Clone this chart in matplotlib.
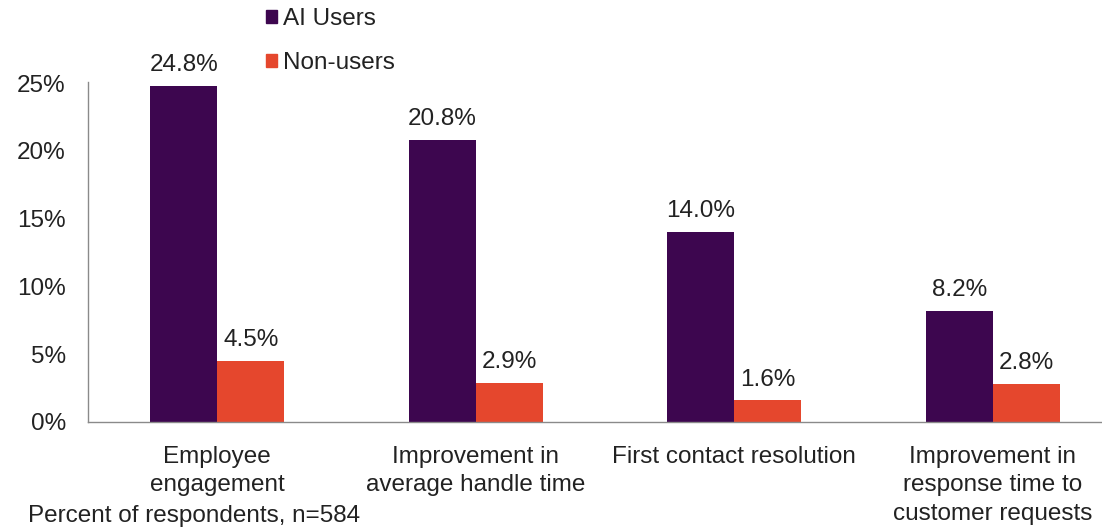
import matplotlib
matplotlib.use("Agg")
import matplotlib.pyplot as plt
import numpy as np
from matplotlib.patches import Patch

categories = ["Employee\nengagement", "Improvement in\naverage handle time",
              "First contact resolution", "Improvement in\nresponse time to\ncustomer requests"]
ai_users = [24.8, 20.8, 14.0, 8.2]
non_users = [4.5, 2.9, 1.6, 2.8]
series_names = ["AI Users", "Non-users"]
yticks = [0, 5, 10, 15, 20, 25]

plt.rcParams['font.family'] = ['Liberation Sans', 'DejaVu Sans']
text_color = "#222222"
c_ai = "#3d064f"
c_non = "#e5472d"
fs = 17.5

W, H = 1102, 528
fig = plt.figure(figsize=(W / 100, H / 100), dpi=100)
left, right, bottom, top = 88, 1122, 422, 83
ax = fig.add_axes([left / W, 1 - bottom / H, (right - left) / W, (bottom - top) / H])

x = np.arange(len(categories))
bw = 0.26
b1 = ax.bar(x - bw / 2, ai_users, bw, color=c_ai, label=series_names[0])
b2 = ax.bar(x + bw / 2, non_users, bw, color=c_non, label=series_names[1])

for bars, vals in ((b1, ai_users), (b2, non_users)):
    for b, v in zip(bars, vals):
        ax.annotate(f"{v:.1f}%", (b.get_x() + b.get_width() / 2, v),
                    xytext=(0, 7), textcoords="offset points",
                    ha="center", va="bottom", fontsize=fs, color=text_color)

ax.set_xlim(-0.5, len(categories) - 0.5)
ax.set_ylim(0, 25)
ax.set_yticks(yticks)
ax.set_yticklabels([f"{t}%" for t in yticks])
ax.set_xticks(x)
ax.set_xticklabels(categories, linespacing=1.4)
ax.tick_params(axis="y", length=0, pad=16, labelsize=fs, labelcolor=text_color)
ax.tick_params(axis="x", length=0, pad=17, labelsize=fs, labelcolor=text_color)
for s in ("top", "right"):
    ax.spines[s].set_visible(False)
for s in ("left", "bottom"):
    ax.spines[s].set_color("#8a8a8a")
    ax.spines[s].set_linewidth(1.0)
ax.spines["left"].set_bounds(0, 25.1)

handles = [Patch(color=c_ai), Patch(color=c_non)]
fig.legend(handles, series_names, loc="upper left", bbox_to_anchor=(244 / W, 1 + 14 / H),
           frameon=False, fontsize=fs, handlelength=0.45, handleheight=0.45,
           handletextpad=0.25, labelspacing=0.9, labelcolor=text_color)

fig.text(28 / W, 1 / H, "Percent of respondents, n=584", fontsize=fs,
         color=text_color, ha="left", va="bottom")

fig.savefig("out.png", dpi=100, facecolor="white")
